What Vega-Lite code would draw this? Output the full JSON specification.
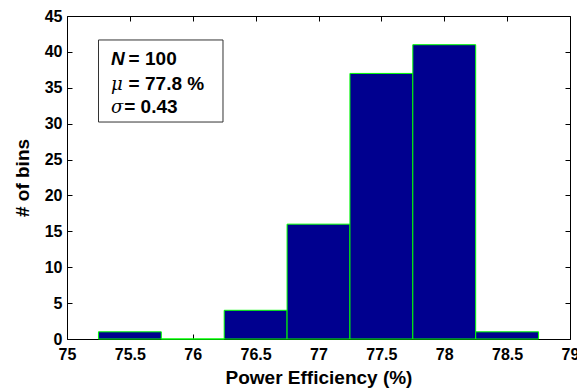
{
  "$schema": "https://vega.github.io/schema/vega-lite/v6.json",
  "width": 503,
  "height": 323,
  "autosize": "none",
  "padding": {"left": 67, "top": 16, "right": 7, "bottom": 51},
  "background": "white",
  "config": {
    "view": {"stroke": null},
    "axis": {
      "domainColor": "black",
      "domainWidth": 1,
      "tickColor": "black",
      "tickSize": -5,
      "tickWidth": 1,
      "grid": false,
      "labelFont": "Liberation Sans",
      "labelFontWeight": "bold",
      "labelFontSize": 16,
      "labelColor": "black",
      "labelFlush": false,
      "labelOverlap": false,
      "format": "~g",
      "titleFont": "Liberation Sans",
      "titleFontWeight": "bold",
      "titleFontSize": 19,
      "titleColor": "black"
    }
  },
  "datasets": {
    "bins": [
      {"bin_start": 75.25, "bin_end": 75.75, "count": 1},
      {"bin_start": 75.75, "bin_end": 76.25, "count": 0},
      {"bin_start": 76.25, "bin_end": 76.75, "count": 4},
      {"bin_start": 76.75, "bin_end": 77.25, "count": 16},
      {"bin_start": 77.25, "bin_end": 77.75, "count": 37},
      {"bin_start": 77.75, "bin_end": 78.25, "count": 41},
      {"bin_start": 78.25, "bin_end": 78.75, "count": 1}
    ],
    "box": [{"x1": 75.2505, "x2": 76.2405, "y1": 30.23, "y2": 41.66}],
    "stats": [
      {"sym": "N", "rest": "= 100", "xs": 75.35, "xr": 75.49, "y": 38.17},
      {"sym": "μ", "rest": "= 77.8 %", "xs": 75.35, "xr": 75.49, "y": 34.69},
      {"sym": "σ", "rest": "= 0.43", "xs": 75.35, "xr": 75.455, "y": 31.49}
    ]
  },
  "layer": [
    {
      "data": {"name": "bins"},
      "mark": {"type": "bar", "fill": "#00008F", "stroke": "#00FF00", "strokeWidth": 1, "orient": "vertical"},
      "encoding": {
        "x": {
          "field": "bin_start", "type": "quantitative",
          "scale": {"domain": [75, 79], "nice": false, "zero": false, "padding": 0},
          "axis": {"orient": "bottom", "values": [75, 75.5, 76, 76.5, 77, 77.5, 78, 78.5, 79], "labelPadding": 12, "title": "Power Efficiency (%)", "titlePadding": 6}
        },
        "x2": {"field": "bin_end"},
        "y": {
          "field": "count", "type": "quantitative",
          "scale": {"domain": [0, 45], "nice": false, "padding": 0},
          "axis": {"orient": "left", "values": [0, 5, 10, 15, 20, 25, 30, 35, 40, 45], "labelPadding": 10, "title": "# of bins", "titlePadding": 12}
        },
        "y2": {"datum": 0}
      }
    },
    {
      "data": {"name": "bins"},
      "mark": {"type": "bar", "opacity": 0, "orient": "vertical"},
      "encoding": {
        "x": {
          "field": "bin_start", "type": "quantitative",
          "axis": {"orient": "top", "values": [75, 75.5, 76, 76.5, 77, 77.5, 78, 78.5, 79], "labels": false, "title": null}
        },
        "x2": {"field": "bin_end"},
        "y": {
          "field": "count", "type": "quantitative",
          "axis": {"orient": "right", "values": [0, 5, 10, 15, 20, 25, 30, 35, 40, 45], "labels": false, "title": null}
        },
        "y2": {"datum": 0}
      }
    },
    {
      "data": {"name": "box"},
      "mark": {"type": "rect", "fill": "white", "stroke": "#333333", "strokeWidth": 1},
      "encoding": {
        "x": {"field": "x1", "type": "quantitative", "axis": null},
        "x2": {"field": "x2"},
        "y": {"field": "y1", "type": "quantitative", "axis": null},
        "y2": {"field": "y2"}
      }
    },
    {
      "data": {"name": "stats"},
      "transform": [{"filter": "datum.sym === 'N'"}],
      "mark": {"type": "text", "font": "Liberation Sans", "fontSize": 19, "fontWeight": "bold", "fontStyle": "italic", "align": "left", "baseline": "alphabetic", "color": "black"},
      "encoding": {
        "x": {"field": "xs", "type": "quantitative", "axis": null},
        "y": {"field": "y", "type": "quantitative", "axis": null},
        "text": {"field": "sym"}
      }
    },
    {
      "data": {"name": "stats"},
      "transform": [{"filter": "datum.sym !== 'N'"}],
      "mark": {"type": "text", "font": "DejaVu Serif", "fontSize": 18, "fontStyle": "italic", "align": "left", "baseline": "alphabetic", "color": "black"},
      "encoding": {
        "x": {"field": "xs", "type": "quantitative", "axis": null},
        "y": {"field": "y", "type": "quantitative", "axis": null},
        "text": {"field": "sym"}
      }
    },
    {
      "data": {"name": "stats"},
      "mark": {"type": "text", "font": "Liberation Sans", "fontSize": 19, "fontWeight": "bold", "align": "left", "baseline": "alphabetic", "color": "black"},
      "encoding": {
        "x": {"field": "xr", "type": "quantitative", "axis": null},
        "y": {"field": "y", "type": "quantitative", "axis": null},
        "text": {"field": "rest"}
      }
    }
  ],
  "resolve": {"axis": {"x": "independent", "y": "independent"}}
}
